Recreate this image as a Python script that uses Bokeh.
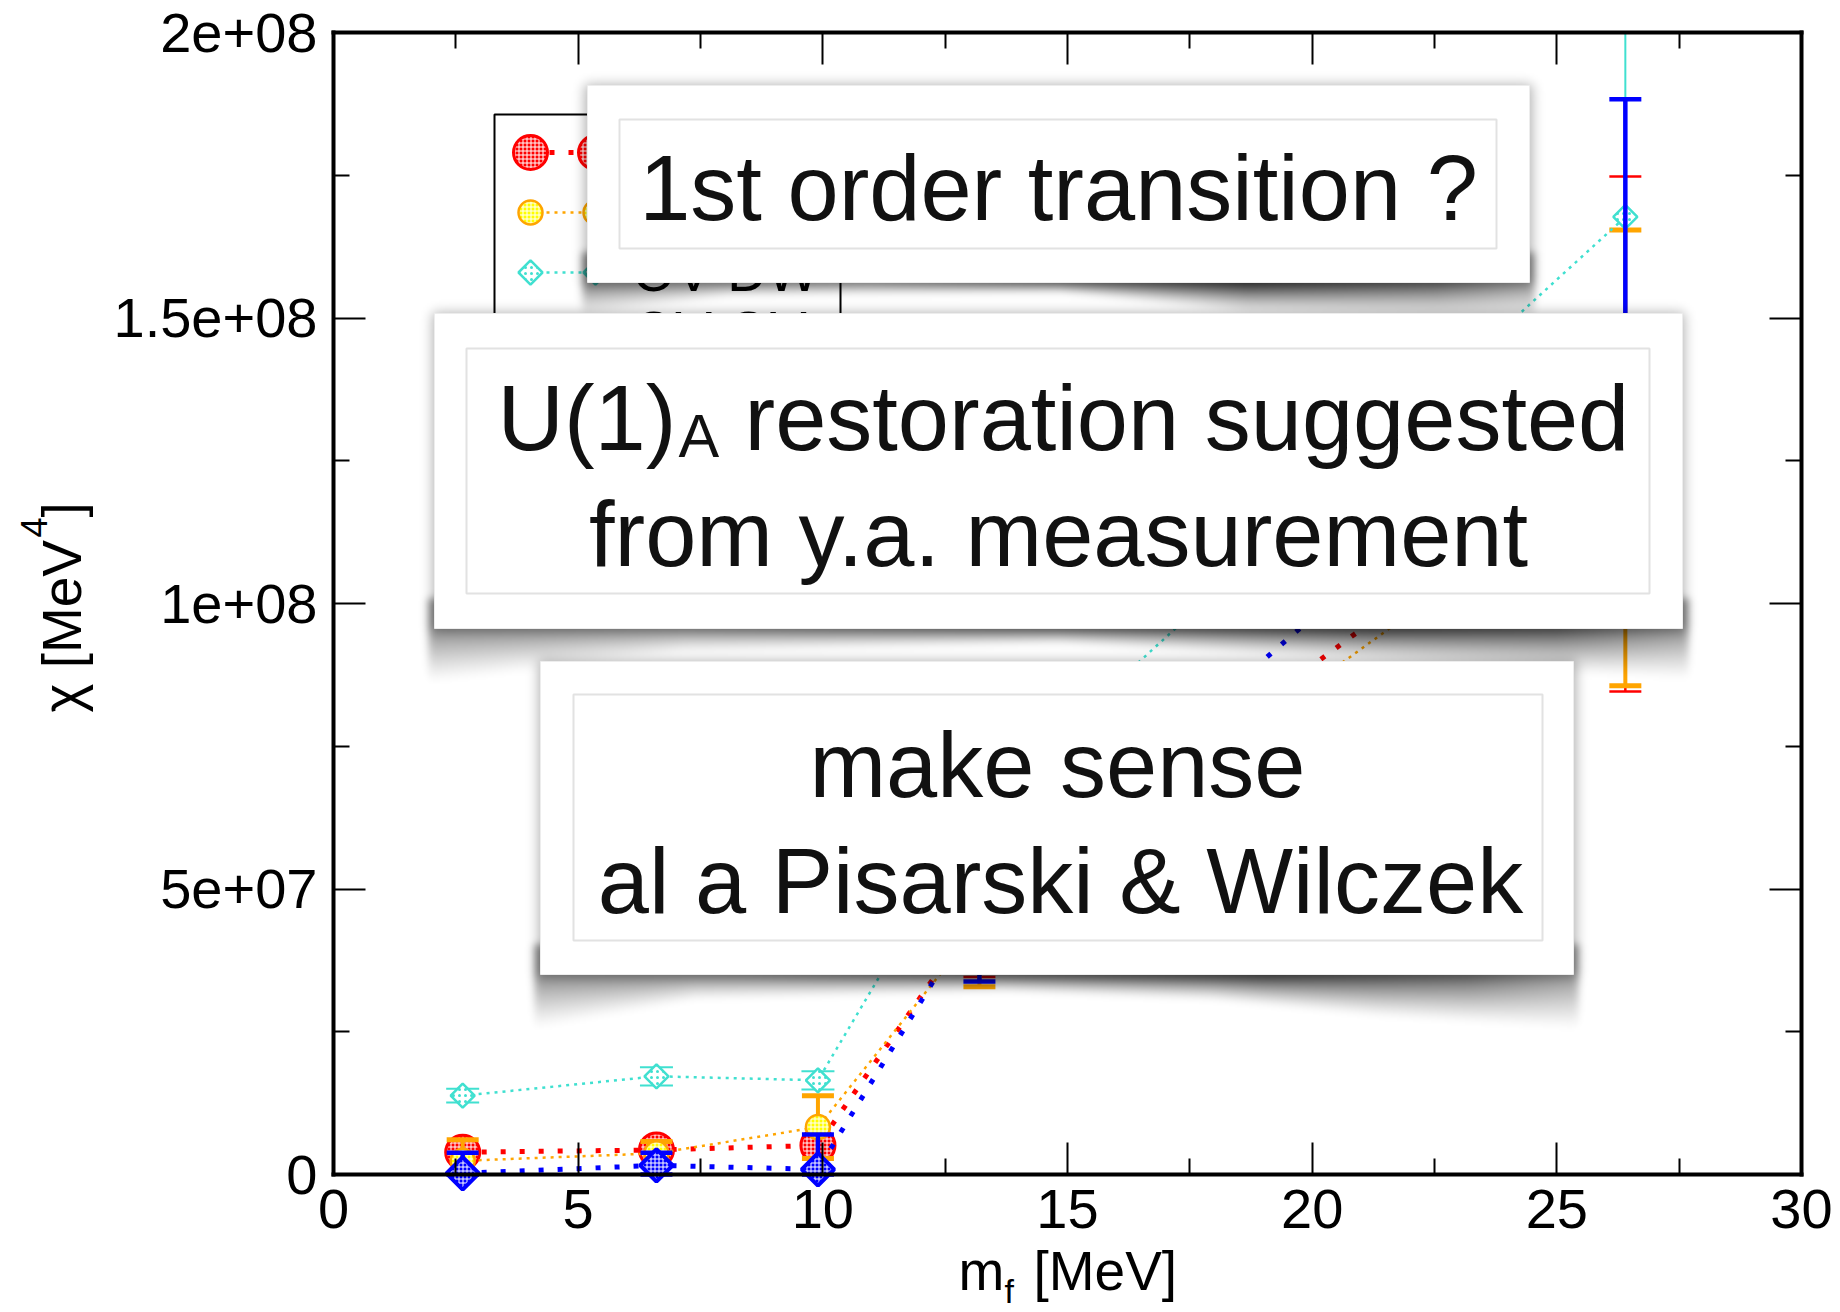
import numpy as np
from bokeh.plotting import figure
from bokeh.models import Range1d, LinearAxis, FixedTicker, CustomJSTickFormatter, Label
from bokeh.core.properties import value
from bokeh.embed import file_html
from bokeh.resources import INLINE

# ---------------- data ----------------
m_f = [2.64, 6.6, 9.9, 13.2, 26.4]
chi_red = [3.9e6, 4.3e6, 5.1e6, 4.6e7, 1.297e8]
err_red = [0.8e6, 0.8e6, 1.2e6, 1.14e7, 4.51e7]
chi_orange = [2.4e6, 3.7e6, 8.3e6, 4.37e7, 1.255e8]
err_orange = [3.7e6, 2.1e6, 5.5e6, 1.08e7, 3.99e7]
chi_turq = [1.38e7, 1.72e7, 1.65e7, 6.42e7, 1.677e8]
err_turq = [1.2e6, 1.6e6, 1.6e6, 1.5e7, 4.5e7]
chi_blue = [0.2e6, 1.6e6, 0.9e6, 4.7e7, 1.45e8]
err_blue = [3.6e6, 2.2e6, 6.1e6, 1.32e7, 4.33e7]
series_labels = ["DW", "DW rew.", "OV DW", "OV OV"]

x_ticks = [0, 5, 10, 15, 20, 25, 30]
x_tick_labels = ["0", "5", "10", "15", "20", "25", "30"]
y_ticks = [0, 50000000, 100000000, 150000000, 200000000]
y_tick_labels = ["0", "5e+07", "1e+08", "1.5e+08", "2e+08"]

box_texts = [["1st order transition ?"],
             ["U(1)", "A", "restoration suggested", "from y.a. measurement"],
             ["make sense", "al a Pisarski & Wilczek"]]

# ---------------- layout constants (pixels) ----------------
W_PX, H_PX = 1840, 1312
FL, FR, FT, FB = 333.0, 1801.0, 32.0, 1174.0
X_MIN, X_MAX = x_ticks[0], x_ticks[-1]
Y_MIN, Y_MAX = y_ticks[0], y_ticks[-1]
FONT = "Liberation Sans"
BASE_FIX = 0.37   # svg text baseline correction (fraction of font size)


def X(px):
    return X_MIN + (px - FL) / (FR - FL) * (X_MAX - X_MIN)


def Y(py):
    return Y_MIN + (FB - py) / (FB - FT) * (Y_MAX - Y_MIN)


# the frame covers the whole canvas; the visible plot box is drawn by fixed-location axes
p = figure(width=W_PX, height=H_PX,
           x_range=Range1d(X(0), X(W_PX)), y_range=Range1d(Y(H_PX), Y(0)),
           output_backend="svg", toolbar_location=None,
           x_axis_location=None, y_axis_location=None,
           min_border_left=0, min_border_right=0, min_border_top=0, min_border_bottom=0)
p.xgrid.visible = False
p.ygrid.visible = False
p.outline_line_color = None
p.background_fill_color = "white"
p.border_fill_color = "white"

x_minor = [(a + b) / 2 for a, b in zip(x_ticks[:-1], x_ticks[1:])]
y_minor = [(a + b) / 2 for a, b in zip(y_ticks[:-1], y_ticks[1:])]

xb = LinearAxis(fixed_location=Y_MIN, bounds=(X_MIN, X_MAX))
xt = LinearAxis(fixed_location=Y_MAX, bounds=(X_MIN, X_MAX))
yl = LinearAxis(fixed_location=X_MIN, bounds=(Y_MIN, Y_MAX))
yr = LinearAxis(fixed_location=X_MAX, bounds=(Y_MIN, Y_MAX))
p.add_layout(xb, "below")
p.add_layout(xt, "above")
p.add_layout(yl, "left")
p.add_layout(yr, "right")

for ax in (xb, xt):
    ax.ticker = FixedTicker(ticks=x_ticks, minor_ticks=x_minor)
for ax in (yl, yr):
    ax.ticker = FixedTicker(ticks=y_ticks, minor_ticks=y_minor)
for ax in (xb, xt, yl, yr):
    ax.axis_line_color = "black"
    ax.axis_line_width = 4
    ax.axis_line_cap = "square"
    ax.major_tick_in = 32
    ax.major_tick_out = 0
    ax.minor_tick_in = 16
    ax.minor_tick_out = 0
    ax.major_tick_line_width = 2
    ax.minor_tick_line_width = 2
    ax.major_tick_line_color = "black"
    ax.minor_tick_line_color = "black"
    ax.major_label_text_font = FONT
    ax.major_label_text_font_size = "56px"
    ax.major_label_text_color = "black"

FMT = "const i = tv.indexOf(tick); return i >= 0 ? tl[i] : '';"
xb.formatter = CustomJSTickFormatter(args=dict(tv=x_ticks, tl=x_tick_labels), code=FMT)
yl.formatter = CustomJSTickFormatter(args=dict(tv=y_ticks, tl=y_tick_labels), code=FMT)
xb.major_label_standoff = 15
yl.major_label_standoff = 16
for ax in (xt, yr):
    ax.formatter = CustomJSTickFormatter(code="return '';")
    ax.major_label_text_font_size = "1px"
    ax.major_label_standoff = 0

# ---------------- series ----------------
styles = [
    dict(color="#ff0000", marker="circle", size=34, mlw=3, fill="#ff0000", hatch="cross",
         hcol="white", hscale=4, lw=5, dash="5 14", elw=2.5, cap=32, clw=2.5, angle=0.0),
    dict(color="#ffa500", marker="circle", size=24, mlw=2.5, fill="#ffff00", hatch="cross",
         hcol="white", hscale=4, lw=2.5, dash="3 5", elw=4, cap=32, clw=5, angle=0.0),
    dict(color="#40e0d0", marker="square", size=17, mlw=2.5, fill="white", hatch="dot",
         hcol="#40e0d0", hscale=6, lw=2.5, dash="3 5", elw=2, cap=33, clw=2, angle=np.pi / 4),
    dict(color="#0000ff", marker="square", size=23, mlw=4, fill="#0000ff", hatch="cross",
         hcol="white", hscale=4, lw=5, dash="5 14", elw=4.5, cap=32, clw=4.5, angle=np.pi / 4),
]
series = [(chi_red, err_red), (chi_orange, err_orange), (chi_turq, err_turq), (chi_blue, err_blue)]


def marker_kw(st):
    return dict(marker=st["marker"], size=st["size"], angle=st["angle"],
                line_color=st["color"], line_width=st["mlw"], fill_color=st["fill"],
                hatch_pattern=st["hatch"], hatch_color=st["hcol"], hatch_scale=st["hscale"],
                hatch_weight=1.0)


for (ys, es), st in zip(series, styles):
    lo = [max(v - e, Y_MIN) for v, e in zip(ys, es)]
    hi = [min(v + e, Y_MAX) for v, e in zip(ys, es)]
    hi_cap = [v + e for v, e in zip(ys, es) if v + e <= Y_MAX]
    x_cap = [x for x, v, e in zip(m_f, ys, es) if v + e <= Y_MAX]
    p.line(m_f, ys, line_color=st["color"], line_width=st["lw"], line_dash=st["dash"])
    p.segment(x0=m_f, y0=lo, x1=m_f, y1=hi, line_color=st["color"], line_width=st["elw"])
    p.scatter(x_cap, hi_cap, marker="dash", size=st["cap"], line_color=st["color"], line_width=st["clw"])
    p.scatter(m_f, lo, marker="dash", size=st["cap"], line_color=st["color"], line_width=st["clw"])
    p.scatter(m_f, ys, **marker_kw(st))


def glyph_text(px, py, txt, size, align, color="#111111"):
    p.text(x=[X(px)], y=[Y(py - BASE_FIX * size)], text=[txt], text_font=value(FONT),
           text_font_size=value(f"{size}px"), text_align=align, text_baseline="alphabetic",
           text_color=color)


# ---------------- legend (mostly hidden behind the call-out boxes) ----------------
leg_rows = [152, 212, 272, 331]
p.quad(left=X(494), right=X(840), top=Y(114), bottom=Y(400), fill_color="white",
       line_color="black", line_width=2)
for ry, st, lab in zip(leg_rows, styles, series_labels):
    p.line([X(530), X(595)], [Y(ry), Y(ry)], line_color=st["color"], line_width=st["lw"],
           line_dash=st["dash"])
    p.scatter([X(530), X(595)], [Y(ry), Y(ry)], **marker_kw(st))
    glyph_text(632, ry + 20, lab, 55, "left", "black")

# ---------------- call-out boxes with soft curled shadows ----------------
boxes = [
    dict(outer=(587, 85, 1529, 282), inner=(619, 119, 1496, 248),
         du=[0, 0.15, 0.5, 0.7, 1], dv=[35, 15, 10, 32, 40],
         au=[0, 0.3, 0.5, 0.7, 0.9, 1], av=[0.5, 0.4, 0.58, 0.8, 0.65, 0.42]),
    dict(outer=(434, 313, 1682, 628), inner=(466, 348, 1649, 593),
         du=[0, 0.2, 0.5, 0.8, 1], dv=[55, 25, 16, 38, 52],
         au=[0, 0.2, 0.5, 0.75, 0.9, 1], av=[0.45, 0.45, 0.58, 0.74, 0.68, 0.45]),
    dict(outer=(540, 661, 1573, 974), inner=(573, 694, 1542, 940),
         du=[0, 0.15, 0.45, 0.65, 0.81, 1], dv=[55, 26, 18, 26, 43, 56],
         au=[0, 0.2, 0.45, 0.7, 0.9, 1], av=[0.45, 0.5, 0.66, 0.76, 0.62, 0.42]),
]

SX0, SX1, SY0, SY1, STEP = 400, 1720, 60, 1060, 2
gx = SX0 + STEP * (np.arange((SX1 - SX0) // STEP) + 0.5)
gy = SY0 + STEP * (np.arange((SY1 - SY0) // STEP) + 0.5)
GX, GY = np.meshgrid(gx, gy)


def blur(a, sigma_px):
    sig = sigma_px / STEP
    R = int(3 * sig) + 1
    k = np.exp(-0.5 * (np.arange(-R, R + 1) / sig) ** 2)
    k /= k.sum()
    pad = np.pad(a, ((R, R), (0, 0)), mode="edge")
    out = sum(k[i] * pad[i:i + a.shape[0], :] for i in range(2 * R + 1))
    pad = np.pad(out, ((0, 0), (R, R)), mode="edge")
    out = sum(k[i] * pad[:, i:i + a.shape[1]] for i in range(2 * R + 1))
    return out


keep = np.ones_like(GX)
for b in boxes:
    l, t, r, btm = b["outer"]
    u = np.clip((GX - l) / (r - l), 0, 1)
    D = np.interp(u, b["du"], b["dv"])
    A = np.interp(u, b["au"], b["av"])
    dy = GY - btm
    v = dy / D
    inx = (GX >= l - 5) & (GX <= r + 5)
    curl = np.where(inx & (dy > -30) & (v <= 1), A * np.clip(1 - np.clip(v, 0, 1), 0, 1) ** 1.2, 0.0)
    curl = blur(curl, 4)
    halo = np.where((GX >= l - 2) & (GX <= r + 2) & (GY >= t - 1) & (GY <= btm + 2), 0.3, 0.0)
    halo = blur(halo, 6)
    keep *= (1 - np.clip(curl, 0, 1)) * (1 - np.clip(halo, 0, 1))

alpha = np.clip(1 - keep, 0, 1)[::-1, :]
H, W = alpha.shape
img = np.zeros((H, W), dtype=np.uint32)
view = img.view(dtype=np.uint8).reshape((H, W, 4))
view[:, :, 0] = 0
view[:, :, 1] = 0
view[:, :, 2] = 0
view[:, :, 3] = (alpha * 255).astype(np.uint8)
p.image_rgba(image=[img], x=X(SX0), y=Y(SY1), dw=X(SX1) - X(SX0), dh=Y(SY0) - Y(SY1))

for b in boxes:
    l, t, r, btm = b["outer"]
    p.quad(left=X(l), right=X(r), top=Y(t), bottom=Y(btm), fill_color="white",
           line_color="#ededed", line_width=1)
    l, t, r, btm = b["inner"]
    p.quad(left=X(l), right=X(r), top=Y(t), bottom=Y(btm), fill_color=None,
           line_color="#e2e2e2", line_width=2)

BIG = 92
glyph_text(1058, 222, box_texts[0][0], BIG, "center")
glyph_text(497, 452, box_texts[1][0], BIG, "left")
glyph_text(678, 458, box_texts[1][1], 61, "left")
glyph_text(744, 452, box_texts[1][2], BIG, "left")
glyph_text(1058, 568, box_texts[1][3], BIG, "center")
glyph_text(1057, 799, box_texts[2][0], BIG, "center")
glyph_text(1060, 915, box_texts[2][1], BIG, "center")

# ---------------- axis titles (with sub/superscripts) ----------------


def add_label(px, py, txt, size, angle=0.0):
    if angle == 0.0:
        xx, yy = X(px), Y(py - BASE_FIX * size)
    else:
        xx, yy = X(px - BASE_FIX * size), Y(py)
    p.add_layout(Label(x=xx, y=yy, text=txt, text_font=FONT, text_font_size=f"{size}px",
                       text_align="left", text_baseline="alphabetic", angle=angle,
                       text_color="black"))


add_label(958, 1291, "m", 55)
add_label(1004, 1303, "f", 34)
add_label(1033, 1291, "[MeV]", 55)

add_label(82, 712, "\u03c7 [MeV", 55, np.pi / 2)
add_label(47, 537, "4", 36, np.pi / 2)
add_label(82, 517, "]", 55, np.pi / 2)

open("out.html", "w").write(file_html(p, INLINE))
